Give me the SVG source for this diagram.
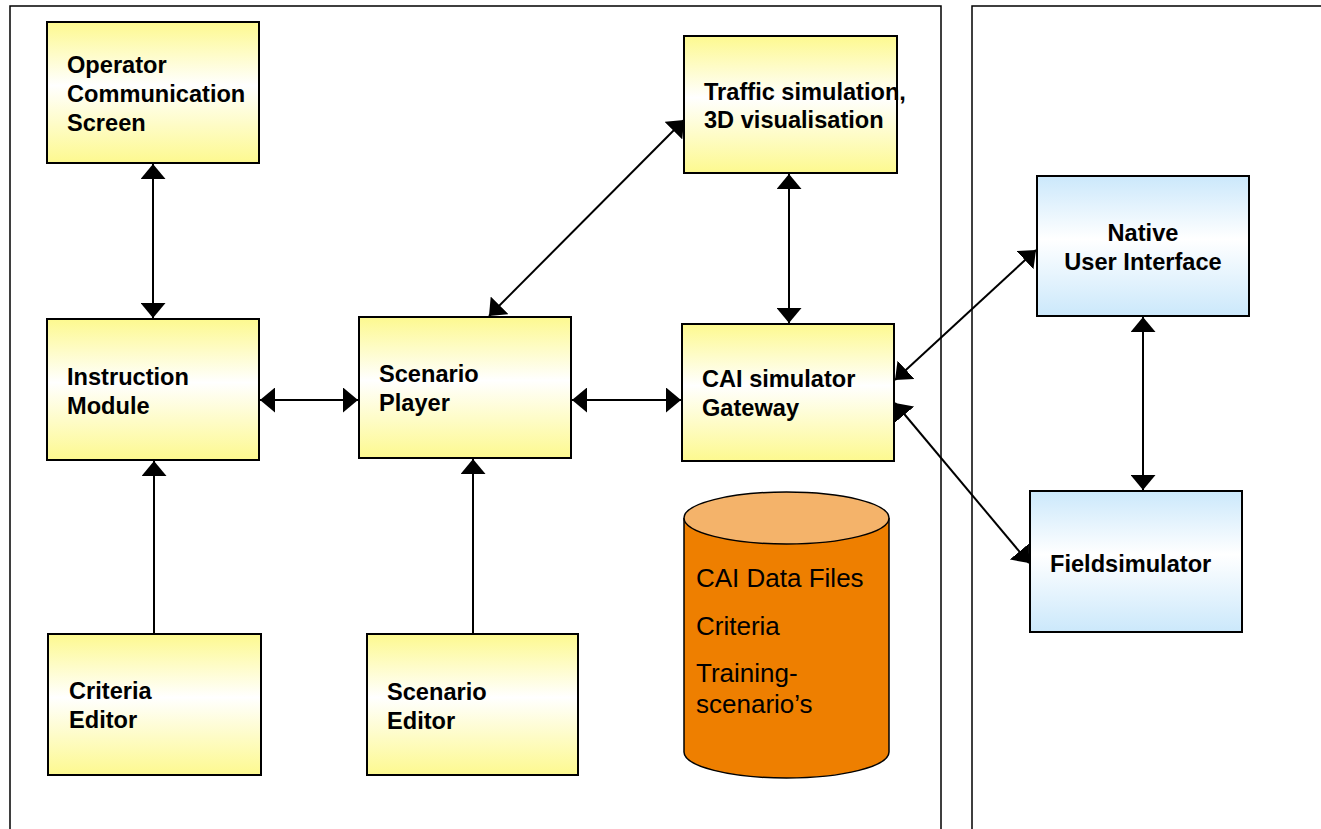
<svg xmlns="http://www.w3.org/2000/svg" width="1321" height="829" viewBox="0 0 1321 829">
  <style>
    .panel { fill: none; stroke: #000; stroke-width: 1.5; }
    .ybox { fill: url(#yellowGrad); stroke: #000; stroke-width: 2; }
    .bbox { fill: url(#blueGrad); stroke: #000; stroke-width: 2; }
    .lbl { font-family: "Liberation Sans", Arial, sans-serif; font-weight: bold; font-size: 23.6px; fill: #000; }
    .dlbl { font-family: "Liberation Sans", Arial, sans-serif; font-size: 26px; fill: #000; }
    .conn { stroke: #000; stroke-width: 2; fill: none; }
    .both { marker-start: url(#arrow); marker-end: url(#arrow); }
    .one { marker-end: url(#arrow); }
  </style>
  <defs>
    <linearGradient id="yellowGrad" x1="0" y1="0" x2="0" y2="1">
      <stop offset="0" stop-color="#fdf98f"/>
      <stop offset="0.45" stop-color="#ffffff"/>
      <stop offset="1" stop-color="#fdf98f"/>
    </linearGradient>
    <linearGradient id="blueGrad" x1="0" y1="0" x2="0" y2="1">
      <stop offset="0" stop-color="#cbe8fb"/>
      <stop offset="0.45" stop-color="#ffffff"/>
      <stop offset="1" stop-color="#cbe8fb"/>
    </linearGradient>
    <marker id="arrow" viewBox="0 0 15 25" refX="15" refY="12.5" markerWidth="15" markerHeight="25" markerUnits="userSpaceOnUse" orient="auto-start-reverse">
      <path d="M0,0 L15,12.5 L0,25 z" fill="#000"/>
    </marker>
  </defs>

  <!-- outer frames -->
  <g id="frames">
    <path class="panel" d="M10,840 L10,6 L941,6 L941,840"/>
    <path class="panel" d="M972,840 L972,6 L1330,6"/>
  </g>

  <!-- connectors -->
  <g id="connectors">
    <line class="conn both" x1="153" y1="164" x2="153" y2="318"/>
    <line class="conn both" x1="260" y1="400" x2="358" y2="400"/>
    <line class="conn both" x1="572" y1="400" x2="681" y2="400"/>
    <line class="conn both" x1="489" y1="316" x2="684" y2="120"/>
    <line class="conn both" x1="789" y1="174" x2="789" y2="323"/>
    <line class="conn one" x1="154" y1="634" x2="154" y2="461"/>
    <line class="conn one" x1="473" y1="634" x2="473" y2="459"/>
    <line class="conn both" x1="895" y1="380" x2="1036" y2="250"/>
    <line class="conn both" x1="895" y1="403" x2="1029" y2="563"/>
    <line class="conn both" x1="1143" y1="317" x2="1143" y2="490"/>
  </g>

  <g id="operator-screen">
    <rect class="ybox" x="47" y="22" width="212" height="141"/>
    <text class="lbl" x="67" y="73">Operator</text>
    <text class="lbl" x="67" y="102">Communication</text>
    <text class="lbl" x="67" y="131">Screen</text>
  </g>

  <g id="traffic-simulation">
    <rect class="ybox" x="684" y="36" width="213" height="137"/>
    <text class="lbl" x="704" y="100">Traffic simulation,</text>
    <text class="lbl" x="704" y="128">3D visualisation</text>
  </g>

  <g id="instruction-module">
    <rect class="ybox" x="47" y="319" width="212" height="141"/>
    <text class="lbl" x="67" y="385">Instruction</text>
    <text class="lbl" x="67" y="414">Module</text>
  </g>

  <g id="scenario-player">
    <rect class="ybox" x="359" y="317" width="212" height="141"/>
    <text class="lbl" x="379" y="382">Scenario</text>
    <text class="lbl" x="379" y="411">Player</text>
  </g>

  <g id="cai-gateway">
    <rect class="ybox" x="682" y="324" width="212" height="137"/>
    <text class="lbl" x="702" y="387">CAI simulator</text>
    <text class="lbl" x="702" y="416">Gateway</text>
  </g>

  <g id="criteria-editor">
    <rect class="ybox" x="48" y="634" width="213" height="141"/>
    <text class="lbl" x="69" y="699">Criteria</text>
    <text class="lbl" x="69" y="728">Editor</text>
  </g>

  <g id="scenario-editor">
    <rect class="ybox" x="367" y="634" width="211" height="141"/>
    <text class="lbl" x="387" y="700">Scenario</text>
    <text class="lbl" x="387" y="729">Editor</text>
  </g>

  <g id="native-ui">
    <rect class="bbox" x="1037" y="176" width="212" height="140"/>
    <text class="lbl" x="1143" y="241" text-anchor="middle">Native</text>
    <text class="lbl" x="1143" y="270" text-anchor="middle">User Interface</text>
  </g>

  <g id="fieldsimulator">
    <rect class="bbox" x="1030" y="491" width="212" height="141"/>
    <text class="lbl" x="1050" y="572">Fieldsimulator</text>
  </g>

  <g id="cai-data-files">
    <path d="M684,518 L684,752 A102.5,26 0 0 0 889,752 L889,518" fill="#ee7f00" stroke="#000" stroke-width="1.5"/>
    <ellipse cx="786.5" cy="518" rx="102.5" ry="26" fill="#f4b36a" stroke="#000" stroke-width="1.5"/>
    <text class="dlbl" x="696" y="587">CAI Data Files</text>
    <text class="dlbl" x="696" y="635">Criteria</text>
    <text class="dlbl" x="696" y="682">Training-</text>
    <text class="dlbl" x="696" y="713">scenario’s</text>
  </g>
</svg>
